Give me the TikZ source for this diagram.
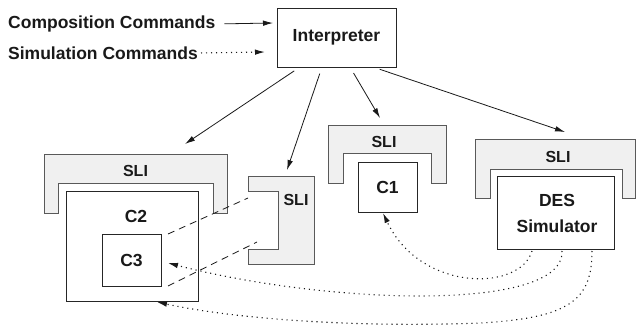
\documentclass[tikz,border=0pt]{standalone}
\usepackage{fontspec}
\setmainfont{Liberation Sans}
\usetikzlibrary{arrows.meta,calc}
\begin{document}
\begin{tikzpicture}[x=1pt,y=-1pt,
  txt/.style={font=\fontsize{17.5}{26}\selectfont\bfseries, inner sep=0pt, text=black!90},
  slitxt/.style={font=\fontsize{16}{20}\selectfont\bfseries, inner sep=0pt, text=black!90},
  box/.style={draw=black!85, line width=1pt, fill=white},
  sli/.style={draw=black!65, line width=1pt, fill=black!6},
  arr/.style={-{Latex[length=10pt,width=5.5pt]}, line width=0.8pt, black!90},
  dotarr/.style={-{Latex[length=10pt,width=5.5pt]}, line width=1.1pt, dash pattern=on 1.1pt off 3.9pt, black!90},
  dashline/.style={line width=0.8pt, dash pattern=on 7pt off 5pt, black!90}]
\useasboundingbox (0,0) rectangle (637,324);

% Interpreter and legend
\node[box, txt, minimum width=119pt, minimum height=59pt] (interp) at (336.5,37.5) {Interpreter};
\node[txt, anchor=west] (comp) at (8,24) {Composition Commands};
\node[txt, anchor=west] (simc) at (8,53) {Simulation Commands};
\coordinate (compend) at (273,23);
\coordinate (simend) at (265,52);
\draw[arr, shorten <=9pt] (comp.east) -- (compend);
\draw[dotarr, shorten <=3pt] (simc.east) -- (simend);

% SLI around C2
\draw[sli] (44,213) -- (44,154) -- (227,154) -- (227,213) -- (213,213) -- (213,183) -- (58,183) -- (58,213) -- cycle;
\node[slitxt] (sli2) at (135.5,170.5) {SLI};
\node[box, minimum width=132pt, minimum height=110pt] (c2) at (132,246) {};
\node[txt] (c2t) at (136,216) {C2};
\node[box, txt, minimum width=59pt, minimum height=52pt] (c3) at (131.5,260) {C3};

% side SLI
\draw[sli] (248,176) -- (314,176) -- (314,264) -- (248,264) -- (248,249) -- (278,249) -- (278,191) -- (248,191) -- cycle;
\node[slitxt] (sli3) at (296,200) {SLI};

% SLI around C1
\draw[sli] (328,183) -- (328,125) -- (446,125) -- (446,183) -- (431,183) -- (431,153) -- (343,153) -- (343,183) -- cycle;
\node[slitxt] (sli1) at (384,142) {SLI};
\node[box, txt, minimum width=59pt, minimum height=50pt] (c1) at (387.5,187) {C1};

% SLI around DES
\draw[sli] (475,198) -- (475,139) -- (635,139) -- (635,198) -- (622,198) -- (622,169) -- (490,169) -- (490,198) -- cycle;
\node[slitxt] (slid) at (558,157) {SLI};
\node[box, minimum width=117pt, minimum height=73pt] (des) at (555.5,212.5) {};
\node[txt, align=center] (dest) at (557,213) {DES\\Simulator};

% arrows from interpreter
\coordinate (i1) at (300,67);
\coordinate (i2) at (322,67);
\coordinate (i3) at (350,67);
\coordinate (i4) at (373,67);
\coordinate (t1) at (185,144);
\coordinate (t2) at (287,170);
\coordinate (t3) at (380,118);
\coordinate (t4) at (565,132);
\draw[arr, shorten <=7pt] (i1) -- (t1);
\draw[arr, shorten <=7pt] (i2) -- (t2);
\draw[arr, shorten <=7pt] (i3) -- (t3);
\draw[arr, shorten <=7pt] (i4) -- (t4);

% dashed lines C3 -- side SLI
\coordinate (d1a) at (168,234);
\coordinate (d1b) at (248,198);
\coordinate (d2a) at (168,286);
\coordinate (d2b) at (257,242);
\draw[dashline] (d1a) -- (d1b);
\draw[dashline] (d2a) -- (d2b);

% dotted curves from DES simulator
\coordinate (s1) at (532,251);
\coordinate (s2) at (562,251);
\coordinate (s3) at (592,251);
\coordinate (e1) at (383,213);
\coordinate (e2) at (168,263);
\coordinate (e3) at (157,302);
\coordinate (m3) at (480,323);
\draw[dotarr] (s1) .. controls (520,292) and (420,292) .. (e1);
\draw[dotarr] (s2) .. controls (565,312) and (330,305) .. (e2);
\draw[dotarr] (s3) .. controls (592,300) and (570,318) .. (m3) .. controls (350,328) and (230,318) .. (e3);
\end{tikzpicture}
\end{document}
